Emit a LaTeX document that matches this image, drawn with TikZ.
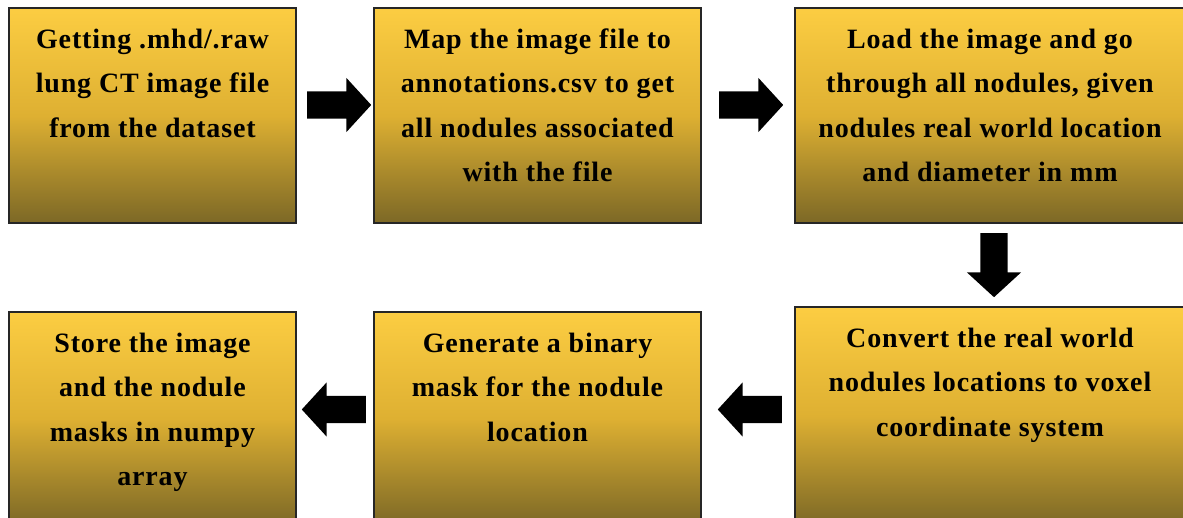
\documentclass[tikz,border=0pt]{standalone}
\usepackage{fontspec}
\setmainfont{Liberation Serif}[LetterSpace=3]
\usetikzlibrary{shapes.arrows}
\definecolor{gtop}{RGB}{252,205,66}
\definecolor{gmid}{RGB}{222,176,50}
\definecolor{gbot}{RGB}{124,104,38}
\tikzset{
  box/.style={draw=black!85, line width=1.2pt, top color=gtop, bottom color=gbot, middle color=gmid, shading angle=0, inner sep=0pt},
  txt/.style={anchor=north, align=center, inner sep=0pt, font=\fontsize{28}{44.5}\selectfont\bfseries, text=black},
  blockarrow/.style={single arrow, fill=black, draw=none, inner sep=13.5pt, minimum height=64pt, minimum width=54pt, single arrow head extend=13.5pt, single arrow tip angle=95, anchor=tail}
}
\begin{document}
\begin{tikzpicture}[x=1pt,y=-1pt]
\useasboundingbox (0,0) rectangle (1183,518);
\clip (0,0) rectangle (1183,518);
\path[fill=white] (0,0) rectangle (1183,518);
% boxes
\node[box, minimum width=287pt, minimum height=215pt] (b1) at (152.5,115.5) {};
\node[box, minimum width=327pt, minimum height=215pt] (b2) at (537.5,115.5) {};
\node[box, minimum width=390pt, minimum height=215pt] (b3) at (990,115.5) {};
\node[box, minimum width=390pt, minimum height=218pt] (b4) at (990,416) {};
\node[box, minimum width=327pt, minimum height=213pt] (b5) at (537.5,418.5) {};
\node[box, minimum width=287pt, minimum height=213pt] (b6) at (152.5,418.5) {};
% texts
\node[txt] (t1) at ([yshift=-21pt]b1.north) {Getting .mhd/.raw\\lung CT image file\\from the dataset};
\node[txt] (t2) at ([yshift=-21pt]b2.north) {Map the image file to\\annotations.csv to get\\all nodules associated\\with the file};
\node[txt] (t3) at ([yshift=-21pt]b3.north) {Load the image and go\\through all nodules, given\\nodules real world location\\and diameter in mm};
\node[txt] (t4) at ([yshift=-21pt]b4.north) {Convert the real world\\nodules locations to voxel\\coordinate system};
\node[txt] (t5) at ([yshift=-21pt]b5.north) {Generate a binary\\mask for the nodule\\location};
\node[txt] (t6) at ([yshift=-21pt]b6.north) {Store the image\\and the nodule\\masks in numpy\\array};
% arrows
\node[blockarrow] (a1) at (307,105) {};
\node[blockarrow] (a2) at (719,105) {};
\node[blockarrow, rotate=-90] (a3) at (994,233) {};
\node[blockarrow, rotate=180] (a4) at (782,409.5) {};
\node[blockarrow, rotate=180] (a5) at (366,409.5) {};
\end{tikzpicture}
\end{document}
